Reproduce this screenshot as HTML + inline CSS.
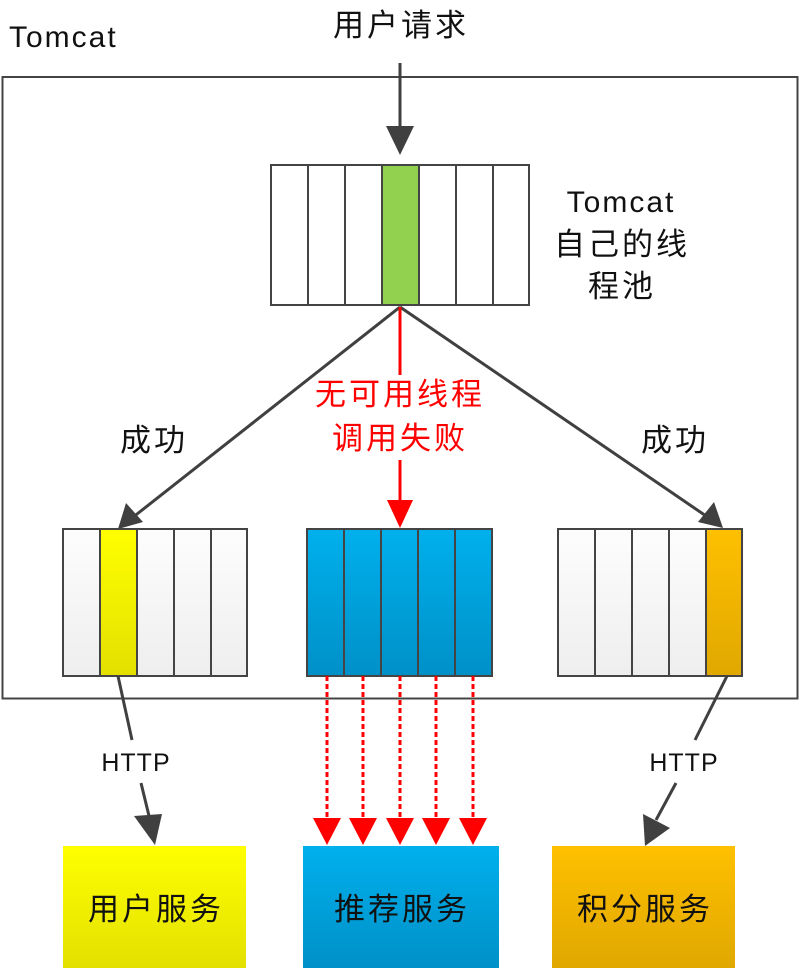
<!DOCTYPE html>
<html><head><meta charset="utf-8"><style>
html,body{margin:0;padding:0;background:#fff;}
svg{display:block;}
text{font-family:"Liberation Sans","Noto Sans CJK SC",sans-serif;}
.c{font-size:31px;letter-spacing:3px;}
</style></head><body>
<svg width="800" height="971" viewBox="0 0 800 971" xmlns="http://www.w3.org/2000/svg">
<defs>
<linearGradient id="gw" x1="0" y1="0" x2="0" y2="1"><stop offset="0" stop-color="#fdfdfd"/><stop offset="1" stop-color="#eeeeee"/></linearGradient>
<linearGradient id="gy" x1="0" y1="0" x2="0" y2="1"><stop offset="0" stop-color="#ffff00"/><stop offset="1" stop-color="#e3e000"/></linearGradient>
<linearGradient id="gb" x1="0" y1="0" x2="0" y2="1"><stop offset="0" stop-color="#00b0ec"/><stop offset="1" stop-color="#0090c8"/></linearGradient>
<linearGradient id="go" x1="0" y1="0" x2="0" y2="1"><stop offset="0" stop-color="#ffc000"/><stop offset="1" stop-color="#e0a800"/></linearGradient>
</defs>
<text x="9" y="47" font-size="30" letter-spacing="2" fill="#111">Tomcat</text>
<text class="c" x="401" y="36" fill="#111" text-anchor="middle">用户请求</text>
<rect x="2.5" y="77" width="795" height="621.5" fill="none" stroke="#444" stroke-width="2"/>
<line x1="400" y1="63" x2="400" y2="128" stroke="#404040" stroke-width="3"/>
<path d="M386,126 L414,126 L400,155 Z" fill="#404040"/>
<g stroke="#444" stroke-width="2">
<rect x="271" y="165" width="37" height="140" fill="#fff"/>
<rect x="308" y="165" width="37" height="140" fill="#fff"/>
<rect x="345" y="165" width="37" height="140" fill="#fff"/>
<rect x="382" y="165" width="37" height="140" fill="#92d050"/>
<rect x="419" y="165" width="37" height="140" fill="#fff"/>
<rect x="456" y="165" width="37" height="140" fill="#fff"/>
<rect x="493" y="165" width="36" height="140" fill="#fff"/>
</g>
<text x="621" y="212" font-size="30" letter-spacing="2" fill="#111" text-anchor="middle">Tomcat</text>
<text class="c" x="622" y="255" fill="#111" text-anchor="middle">自己的线</text>
<text class="c" x="622" y="297" fill="#111" text-anchor="middle">程池</text>
<line x1="400" y1="307" x2="132" y2="518" stroke="#404040" stroke-width="3"/>
<path d="M118,529 L126,503 L143,522 Z" fill="#404040"/>
<line x1="400" y1="307" x2="709" y2="518" stroke="#404040" stroke-width="3"/>
<path d="M723,528 L698,522 L714,502 Z" fill="#404040"/>
<text class="c" x="154" y="451" fill="#111" text-anchor="middle">成功</text>
<text class="c" x="675" y="451" fill="#111" text-anchor="middle">成功</text>
<line x1="400" y1="307" x2="400" y2="375" stroke="#ff0000" stroke-width="3"/>
<line x1="400" y1="460" x2="400" y2="502" stroke="#ff0000" stroke-width="3"/>
<path d="M387,500 L413,500 L400,528 Z" fill="#ff0000"/>
<text class="c" x="400" y="405" fill="#ff0000" text-anchor="middle">无可用线程</text>
<text class="c" x="400" y="449" fill="#ff0000" text-anchor="middle">调用失败</text>
<g stroke="#444" stroke-width="2">
<rect x="63" y="529" width="37" height="147" fill="url(#gw)"/>
<rect x="100" y="529" width="37" height="147" fill="url(#gy)"/>
<rect x="137" y="529" width="37" height="147" fill="url(#gw)"/>
<rect x="174" y="529" width="37" height="147" fill="url(#gw)"/>
<rect x="211" y="529" width="36" height="147" fill="url(#gw)"/>
</g>
<g stroke="#444" stroke-width="2" fill="url(#gb)">
<rect x="307" y="529" width="37" height="147"/>
<rect x="344" y="529" width="37" height="147"/>
<rect x="381" y="529" width="37" height="147"/>
<rect x="418" y="529" width="37" height="147"/>
<rect x="455" y="529" width="37" height="147"/>
</g>
<g stroke="#444" stroke-width="2">
<rect x="558" y="529" width="37" height="147" fill="url(#gw)"/>
<rect x="595" y="529" width="37" height="147" fill="url(#gw)"/>
<rect x="632" y="529" width="37" height="147" fill="url(#gw)"/>
<rect x="669" y="529" width="37" height="147" fill="url(#gw)"/>
<rect x="706" y="529" width="36" height="147" fill="url(#go)"/>
</g>
<line x1="118" y1="676" x2="132" y2="740" stroke="#404040" stroke-width="3"/>
<text x="136" y="771" font-size="25" letter-spacing="1" fill="#111" text-anchor="middle">HTTP</text>
<line x1="141" y1="783" x2="150" y2="820" stroke="#404040" stroke-width="3"/>
<path d="M134,816 L162,814 L155,845 Z" fill="#404040"/>
<line x1="727" y1="676" x2="695" y2="740" stroke="#404040" stroke-width="3"/>
<text x="684" y="771" font-size="25" letter-spacing="1" fill="#111" text-anchor="middle">HTTP</text>
<line x1="676" y1="783" x2="656" y2="820" stroke="#404040" stroke-width="3"/>
<path d="M643,814 L670,828 L645,846 Z" fill="#404040"/>
<g stroke="#ff0000" stroke-width="3" stroke-dasharray="5,3">
<line x1="327" y1="676" x2="327" y2="820"/>
<line x1="363" y1="676" x2="363" y2="820"/>
<line x1="400" y1="676" x2="400" y2="820"/>
<line x1="436" y1="676" x2="436" y2="820"/>
<line x1="473" y1="676" x2="473" y2="820"/>
</g>
<g fill="#ff0000">
<path d="M313,818 L341,818 L327,845 Z"/>
<path d="M349,818 L377,818 L363,845 Z"/>
<path d="M386,818 L414,818 L400,845 Z"/>
<path d="M422,818 L450,818 L436,845 Z"/>
<path d="M459,818 L487,818 L473,845 Z"/>
</g>
<rect x="63" y="846" width="183" height="122" fill="url(#gy)"/>
<rect x="303" y="846" width="196" height="122" fill="url(#gb)"/>
<rect x="552" y="846" width="183" height="122" fill="url(#go)"/>
<text class="c" x="156" y="920" fill="#111" text-anchor="middle">用户服务</text>
<text class="c" x="402" y="920" fill="#111" text-anchor="middle">推荐服务</text>
<text class="c" x="645" y="920" fill="#111" text-anchor="middle">积分服务</text>
</svg>
</body></html>
